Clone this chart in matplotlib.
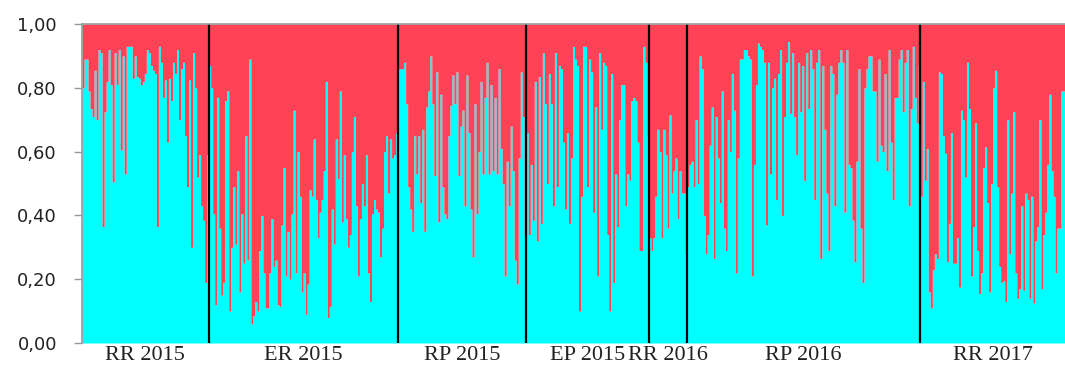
import numpy as np
import matplotlib
matplotlib.use("Agg")
import matplotlib.pyplot as plt

# cluster 1 (cyan) membership per individual
rr2015 = [0.80, 0.89, 0.89, 0.79, 0.735, 0.71, 0.855, 0.70, 0.92, 0.91,
          0.365, 0.725, 0.82, 0.92, 0.81, 0.505, 0.91, 0.81, 0.92, 0.605,
          0.90, 0.53, 0.93, 0.93, 0.93, 0.83, 0.90, 0.835, 0.83, 0.81, 0.82,
          0.845, 0.92, 0.91, 0.87, 0.855, 0.845, 0.365, 0.93, 0.88, 0.77,
          0.825, 0.63, 0.83, 0.76, 0.88, 0.845, 0.92, 0.70, 0.86, 0.88,
          0.65, 0.49, 0.825, 0.30, 0.91, 0.80, 0.52, 0.59, 0.43, 0.385,
          0.19, 0.59]
er2015 = [0.87, 0.80, 0.405, 0.12, 0.77, 0.36, 0.15, 0.19, 0.76, 0.79,
          0.10, 0.30, 0.49, 0.31, 0.54, 0.16, 0.405, 0.25, 0.65, 0.26,
          0.89, 0.06, 0.085, 0.13, 0.10, 0.29, 0.40, 0.22, 0.11, 0.11,
          0.22, 0.39, 0.24, 0.26, 0.12, 0.115, 0.37, 0.55, 0.21, 0.35,
          0.20, 0.405, 0.73, 0.22, 0.60, 0.46, 0.16, 0.22, 0.09, 0.185,
          0.48, 0.46, 0.64, 0.45, 0.33, 0.41, 0.45, 0.54, 0.82, 0.08,
          0.115, 0.42, 0.31, 0.64, 0.515, 0.79, 0.38, 0.59, 0.39, 0.30,
          0.34, 0.60, 0.71, 0.43, 0.21, 0.39, 0.50, 0.43, 0.59, 0.22,
          0.13, 0.405, 0.45, 0.42, 0.41, 0.27, 0.36, 0.60, 0.65, 0.47,
          0.64, 0.58, 0.59, 0.66]
rp2015 = [0.86, 0.86, 0.86, 0.88, 0.75, 0.49, 0.42, 0.35, 0.65, 0.53, 0.65,
          0.44, 0.67, 0.35, 0.74, 0.79, 0.90, 0.75, 0.525, 0.85, 0.38,
          0.78, 0.49, 0.405, 0.39, 0.65, 0.745, 0.84, 0.75, 0.85, 0.525,
          0.68, 0.73, 0.43, 0.84, 0.66, 0.42, 0.27, 0.75, 0.405, 0.60,
          0.82, 0.53, 0.77, 0.88, 0.53, 0.81, 0.54, 0.77, 0.53, 0.86,
          0.61, 0.50, 0.21, 0.57, 0.43, 0.68, 0.54, 0.26, 0.185, 0.58,
          0.85, 0.71, 0.34]
ep2015 = [0.66, 0.34, 0.56, 0.385, 0.82, 0.32, 0.835, 0.375, 0.91, 0.75,
          0.50, 0.845, 0.75, 0.43, 0.91, 0.49, 0.87, 0.86, 0.63, 0.42,
          0.66, 0.375, 0.58, 0.93, 0.89, 0.87, 0.10, 0.46, 0.93, 0.93,
          0.49, 0.89, 0.85, 0.41, 0.74, 0.21, 0.91, 0.67, 0.88, 0.87,
          0.34, 0.10, 0.845, 0.19, 0.53, 0.365, 0.70, 0.81, 0.81, 0.43,
          0.53, 0.51, 0.76, 0.77, 0.76, 0.63, 0.29, 0.29, 0.93, 0.88,
          0.65]
rr2016 = [0.33, 0.29, 0.33, 0.46, 0.67, 0.60, 0.33, 0.67, 0.59, 0.36,
          0.715, 0.47, 0.54, 0.58, 0.39, 0.54, 0.47, 0.47, 0.29]
rp2016 = [0.49, 0.56, 0.57, 0.49, 0.70, 0.50, 0.90, 0.86, 0.40, 0.28,
          0.34, 0.62, 0.74, 0.265, 0.71, 0.58, 0.44, 0.79,
          0.36, 0.29, 0.70, 0.60, 0.845, 0.73, 0.22, 0.58, 0.89, 0.89,
          0.92, 0.92, 0.90, 0.89, 0.21, 0.56, 0.81, 0.94, 0.93, 0.92,
          0.88, 0.37, 0.88, 0.53, 0.80, 0.83, 0.45, 0.845, 0.92, 0.40,
          0.71, 0.88, 0.945, 0.72, 0.91, 0.71, 0.59, 0.88, 0.725, 0.87,
          0.51, 0.91, 0.735, 0.92, 0.86, 0.45, 0.88, 0.92, 0.265, 0.87,
          0.67, 0.47, 0.29, 0.87, 0.845, 0.43, 0.78, 0.88, 0.92,
          0.88, 0.41, 0.92, 0.56, 0.55, 0.385, 0.255, 0.57, 0.86, 0.36,
          0.19, 0.80, 0.86, 0.90, 0.90, 0.79, 0.79, 0.57, 0.89, 0.62, 0.60,
          0.845, 0.54, 0.92, 0.63, 0.45, 0.77, 0.77, 0.89, 0.92, 0.725,
          0.88, 0.92, 0.43, 0.735, 0.93, 0.77, 0.69, 0.87]
rr2017 = [0.46, 0.82, 0.51, 0.61, 0.16, 0.11, 0.23, 0.28, 0.265, 0.85,
          0.845, 0.65, 0.595, 0.255, 0.375, 0.66, 0.25, 0.25, 0.33, 0.175,
          0.73, 0.70, 0.52, 0.88, 0.735, 0.21, 0.365, 0.69, 0.29, 0.155,
          0.22, 0.55, 0.615, 0.44, 0.16, 0.50, 0.80, 0.855, 0.49, 0.24,
          0.19, 0.195, 0.13, 0.70, 0.28, 0.47, 0.725, 0.22, 0.14, 0.17,
          0.43, 0.165, 0.47, 0.45, 0.14, 0.46, 0.125, 0.32, 0.365, 0.70,
          0.17, 0.34, 0.41, 0.56, 0.78, 0.54, 0.46, 0.22, 0.36, 0.36,
          0.79, 0.79]

groups = ["RR 2015", "ER 2015", "RP 2015", "EP 2015", "RR 2016", "RP 2016", "RR 2017"]
series = [rr2015, er2015, rp2015, ep2015, rr2016, rp2016, rr2017]

cyan = np.concatenate([np.array(s) for s in series])
n = len(cyan)
sizes = np.array([len(s) for s in series])
edges = np.concatenate([[0], np.cumsum(sizes)])
centers = (edges[:-1] + edges[1:]) / 2

fig = plt.figure(figsize=(10.65, 3.69), dpi=100)
ax = fig.add_axes([82 / 1065, 1 - 343 / 369, 1 - 82 / 1065, 319 / 369])

# stepped fills: one column per individual
x = np.arange(n + 1)
y = np.append(cyan, cyan[-1])
ax.fill_between(x, 0, y, step="post", color="#00FFFF", linewidth=0)
ax.fill_between(x, y, 1, step="post", color="#FF4255", linewidth=0)

for e in edges[1:-1]:
    ax.axvline(e, color="black", lw=1.6)

ax.set_xlim(0, n)
ax.set_ylim(0, 1)
ax.set_yticks(np.arange(0, 1.01, 0.2))
ax.set_yticklabels([f"{v:.2f}".replace(".", ",") for v in np.arange(0, 1.01, 0.2)],
                   fontsize=13, color="#222222")
ax.tick_params(axis="y", length=6, width=1, color="#999999", pad=12)
ax.set_xticks(centers)
ax.set_xticklabels(groups, fontsize=16, family="Liberation Serif", color="#222222")
ax.tick_params(axis="x", length=0, pad=2)

for side in ["left", "top"]:
    ax.spines[side].set_color("#999999")
    ax.spines[side].set_linewidth(1.2)
ax.spines["right"].set_visible(False)
ax.spines["bottom"].set_visible(False)

fig.savefig("out.png", dpi=100)
